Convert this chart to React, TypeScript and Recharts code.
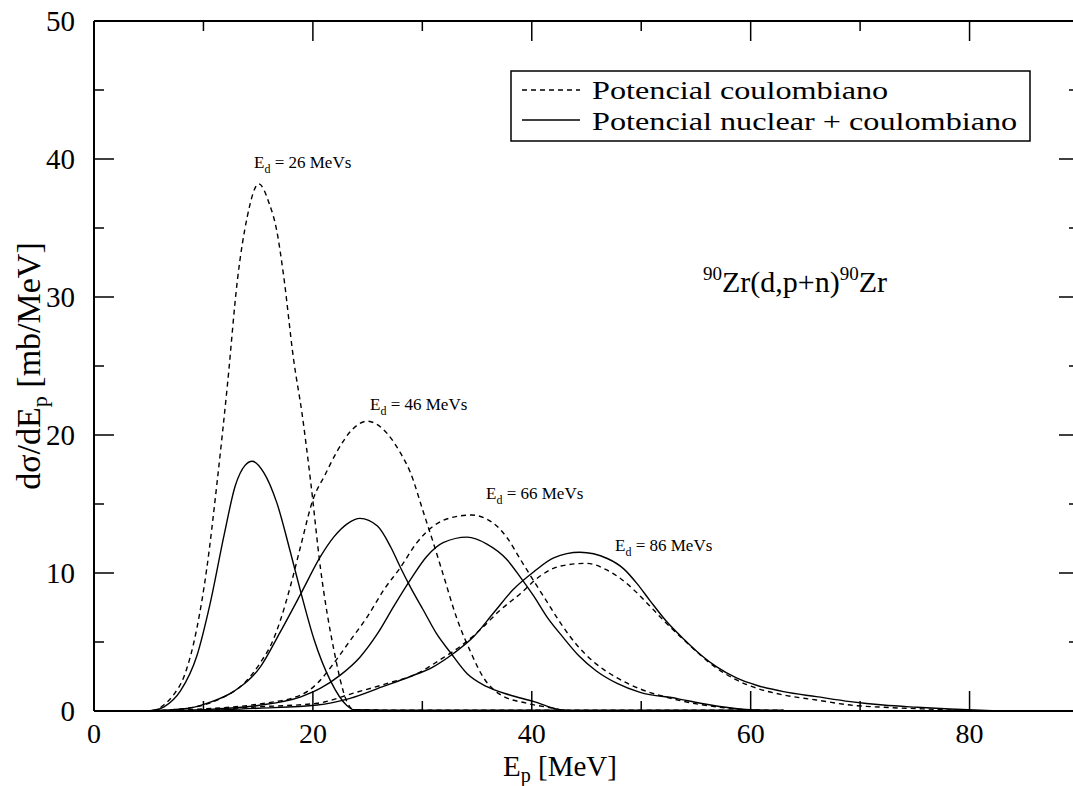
import React from "react";
import { LineChart, Line, XAxis, YAxis, ReferenceLine } from "recharts";

// E_p [MeV] / dσ/dE_p [mb/MeV]
const epC26 = [4.5, 5.5, 6.4, 7.3, 8.2, 9.4, 10.3, 11.25, 12.2, 13.1, 14.0, 15.05, 16.0, 16.7, 17.3, 18.25, 19.0, 19.8, 20.7, 21.9, 23.1, 23.7, 30, 43];
const dsC26 = [0, 0.05, 0.45, 1.2, 2.45, 6.0, 10.3, 16.6, 23.7, 31.2, 35.8, 38.2, 36.8, 34.8, 31.7, 25.4, 21.6, 16.6, 10.3, 4.5, 0.7, 0.1, 0.05, 0.05];

const epN26 = [4.5, 5.5, 6.4, 7.9, 9.4, 10.6, 11.9, 12.9, 13.8, 14.45, 15.5, 16.7, 17.95, 18.9, 20.1, 21.6, 23.1, 23.7, 30, 43];
const dsN26 = [0, 0.05, 0.3, 1.45, 4.0, 7.75, 12.8, 16.3, 17.8, 18.1, 17.3, 15.1, 11.5, 8.6, 5.2, 2.2, 0.4, 0.1, 0.05, 0.05];

const epC46 = [4.5, 8.5, 10.0, 11.55, 13.7, 15.2, 16.4, 17.0, 18.0, 18.9, 20.0, 21.1, 22.2, 23.6, 24.95, 26.8, 28.0, 28.9, 30.1, 31.0, 31.9, 33.2, 34.4, 35.6, 37.1, 39.6, 42.0, 43, 63];
const dsC46 = [0, 0.2, 0.43, 0.9, 2.0, 3.5, 5.2, 6.5, 9.2, 12.0, 15.3, 17.1, 18.8, 20.4, 21.0, 20.1, 18.7, 17.3, 14.4, 12.2, 9.9, 6.6, 4.3, 2.4, 1.2, 0.55, 0.2, 0.05, 0.05];

const epN46 = [4.5, 8.5, 10.3, 12.8, 15.2, 17.0, 18.9, 20.7, 21.9, 23.2, 24.3, 25.9, 27.1, 28.0, 28.9, 30.1, 31.3, 32.6, 34.1, 35.9, 38.0, 40.2, 42.0, 43, 63];
const dsN46 = [0, 0.18, 0.55, 1.44, 3.2, 5.7, 8.5, 11.2, 12.6, 13.6, 13.96, 13.4, 11.9, 10.4, 9.0, 7.3, 5.6, 4.2, 2.7, 1.76, 1.16, 0.68, 0.2, 0.05, 0.05];

const epC66 = [4.5, 10, 15, 18.9, 20.4, 21.9, 23.4, 24.95, 26.5, 28.0, 29.5, 31.0, 32.6, 34.5, 36.5, 37.7, 38.95, 40.2, 41.4, 42.6, 44.1, 45.6, 47.8, 49.9, 52.3, 54.5, 56.9, 60, 62, 82];
const dsC66 = [0, 0.15, 0.5, 1.16, 2.0, 3.45, 5.1, 6.8, 8.8, 10.4, 12.2, 13.4, 14.0, 14.2, 13.6, 12.6, 11.0, 9.4, 7.9, 6.4, 4.8, 3.6, 2.4, 1.6, 1.0, 0.6, 0.3, 0.07, 0.03, 0.03];

const epN66 = [4.5, 10, 15, 18.9, 20.7, 22.5, 24.3, 25.9, 27.4, 28.9, 30.4, 31.9, 34.1, 35.9, 37.7, 38.95, 40.2, 41.4, 42.9, 44.3, 45.9, 47.8, 49.9, 53.3, 55.4, 58.4, 61.5, 63, 82];
const dsN66 = [0, 0.1, 0.4, 1.03, 1.65, 2.6, 3.9, 5.6, 7.6, 9.5, 11.2, 12.2, 12.6, 12.1, 11.0, 9.7, 8.3, 6.8, 5.3, 4.0, 2.9, 2.0, 1.35, 0.9, 0.56, 0.2, 0.03, 0.03, 0.03];

const epC86 = [4.5, 10, 15, 20.4, 23.7, 26.8, 29.5, 31.6, 33.5, 35.3, 37.1, 38.95, 40.8, 42.6, 45.0, 46.9, 48.1, 49.3, 50.8, 52.3, 53.9, 55.4, 56.9, 58.7, 60.6, 63.0, 66.0, 69.1, 72.1, 75.2, 78.2, 81.2];
const dsC86 = [0, 0.08, 0.3, 0.56, 1.29, 2.0, 2.7, 3.7, 4.7, 5.9, 7.3, 8.5, 9.8, 10.5, 10.7, 10.2, 9.6, 8.8, 7.6, 6.35, 5.15, 4.06, 3.1, 2.25, 1.64, 1.16, 0.8, 0.43, 0.27, 0.17, 0.07, 0.0];

const epN86 = [4.5, 10, 15, 20.4, 23.4, 26.5, 28.9, 31.0, 32.9, 34.7, 36.5, 38.3, 40.2, 42.0, 44.4, 46.9, 48.4, 49.6, 50.8, 52.3, 53.9, 55.4, 56.9, 58.7, 60.6, 63.0, 66.0, 69.1, 72.1, 75.2, 78.2, 82.1];
const dsN86 = [0, 0.05, 0.2, 0.43, 0.92, 1.8, 2.5, 3.2, 4.2, 5.4, 7.1, 8.8, 10.1, 11.1, 11.5, 11.05, 10.3, 9.25, 8.0, 6.5, 5.2, 4.1, 3.2, 2.4, 1.85, 1.4, 1.04, 0.68, 0.43, 0.27, 0.14, 0.02];

const xTicks = [0, 10, 20, 30, 40, 50, 60, 70, 80, 90];
const yTicks = [0, 5, 10, 15, 20, 25, 30, 35, 40, 45, 50];

const toPoints = (xs: number[], ys: number[]) => xs.map((x, i) => ({ x, y: ys[i] }));

const curves = [
  { key: "c26", data: toPoints(epC26, dsC26), dashed: true },
  { key: "n26", data: toPoints(epN26, dsN26), dashed: false },
  { key: "c46", data: toPoints(epC46, dsC46), dashed: true },
  { key: "n46", data: toPoints(epN46, dsN46), dashed: false },
  { key: "c66", data: toPoints(epC66, dsC66), dashed: true },
  { key: "n66", data: toPoints(epN66, dsN66), dashed: false },
  { key: "c86", data: toPoints(epC86, dsC86), dashed: true },
  { key: "n86", data: toPoints(epN86, dsN86), dashed: false },
];

const FONT = '"Liberation Serif", "Times New Roman", Times, "DejaVu Serif", serif';
const W = 1100;
const H = 786;
const M = { top: 21, right: 21, bottom: 0, left: 0 };
const X_AXIS_H = 75;
const Y_AXIS_W = 94;
const TOP = M.top;
const BOTTOM = H - M.bottom - X_AXIS_H;
const LEFT = M.left + Y_AXIS_W;
const RIGHT = W - M.right;

const txt = { fontFamily: FONT, fill: "#000" };

function XTick(props: any) {
  const { x, payload } = props;
  const v = payload.value;
  const major = v % 20 === 0;
  const len = major ? 20 : 10;
  return (
    <g>
      <line x1={x} x2={x} y1={BOTTOM} y2={BOTTOM - len} stroke="#000" strokeWidth={1.5} />
      <line x1={x} x2={x} y1={TOP} y2={TOP + len} stroke="#000" strokeWidth={1.5} />
      {major && v < 90 && (
        <text x={x} y={743} textAnchor="middle" fontSize={28} style={txt}>
          {v}
        </text>
      )}
    </g>
  );
}

function YTick(props: any) {
  const { y, payload } = props;
  const v = payload.value;
  const major = v % 10 === 0;
  const len = major ? 20 : 10;
  return (
    <g>
      <line x1={LEFT} x2={LEFT + len} y1={y} y2={y} stroke="#000" strokeWidth={1.5} />
      <line x1={RIGHT} x2={RIGHT - len} y1={y} y2={y} stroke="#000" strokeWidth={1.5} />
      {major && (
        <text x={75} y={y + 10} textAnchor="end" fontSize={29} style={txt}>
          {v}
        </text>
      )}
    </g>
  );
}

function EdLabel({ x, y, value }: { x: number; y: number; value: number }) {
  return (
    <text x={x} y={y} fontSize={17} style={txt}>
      E
      <tspan dy={5} fontSize={12}>d</tspan>
      <tspan dy={-5}>{` = ${value} MeVs`}</tspan>
    </text>
  );
}

export default function App() {
  return (
    <div
      style={{
        position: "fixed",
        left: 0,
        top: 0,
        width: 1073,
        height: 786,
        overflow: "hidden",
        background: "#fff",
        fontFamily: FONT,
      }}
    >
      <LineChart width={W} height={H} margin={M}>
        <XAxis
          type="number"
          dataKey="x"
          domain={[0, 90]}
          ticks={xTicks}
          interval={0}
          height={X_AXIS_H}
          allowDataOverflow
          tickLine={false}
          axisLine={{ stroke: "#000", strokeWidth: 2 }}
          tick={XTick}
        />
        <YAxis
          type="number"
          domain={[0, 50]}
          ticks={yTicks}
          interval={0}
          width={Y_AXIS_W}
          allowDataOverflow
          tickLine={false}
          axisLine={{ stroke: "#000", strokeWidth: 2 }}
          tick={YTick}
        />
        <ReferenceLine y={50} stroke="#000" strokeWidth={2} />
        <ReferenceLine x={90} stroke="#000" strokeWidth={2} />
        {curves.map((c) => (
          <Line
            key={c.key}
            data={c.data}
            dataKey="y"
            type="monotone"
            stroke="#000"
            strokeWidth={1.4}
            strokeDasharray={c.dashed ? "5 4" : undefined}
            dot={false}
            activeDot={false}
            isAnimationActive={false}
          />
        ))}
      </LineChart>

      <svg
        width={1073}
        height={786}
        style={{ position: "absolute", left: 0, top: 0, pointerEvents: "none" }}
      >
        <text transform="translate(40,366) rotate(-90)" textAnchor="middle" fontSize={34} style={txt}>
          dσ/dE
          <tspan dy={7} fontSize={22}>p</tspan>
          <tspan dy={-7}> [mb/MeV]</tspan>
        </text>
        <text x={560} y={776} textAnchor="middle" fontSize={29} style={txt}>
          E
          <tspan dy={6} fontSize={20}>p</tspan>
          <tspan dy={-6}> [MeV]</tspan>
        </text>

        <EdLabel x={254} y={168} value={26} />
        <EdLabel x={370} y={410} value={46} />
        <EdLabel x={486} y={499} value={66} />
        <EdLabel x={615} y={551} value={86} />

        <text x={703} y={292} fontSize={30} style={txt}>
          <tspan dy={-12} fontSize={19}>90</tspan>
          <tspan dy={12}>Zr(d,p+n)</tspan>
          <tspan dy={-12} fontSize={19}>90</tspan>
          <tspan dy={12}>Zr</tspan>
        </text>

        <rect x={511} y={71} width={519} height={70} fill="#fff" stroke="#000" strokeWidth={1.5} />
        <line x1={522} x2={580} y1={90} y2={90} stroke="#000" strokeWidth={1.4} strokeDasharray="5 4" />
        <line x1={522} x2={580} y1={120} y2={120} stroke="#000" strokeWidth={1.4} />
        <text transform="translate(592,99) scale(1.24,1)" fontSize={26} style={txt}>
          Potencial coulombiano
        </text>
        <text transform="translate(592,130) scale(1.24,1)" fontSize={26} style={txt}>
          Potencial nuclear + coulombiano
        </text>
      </svg>
    </div>
  );
}
